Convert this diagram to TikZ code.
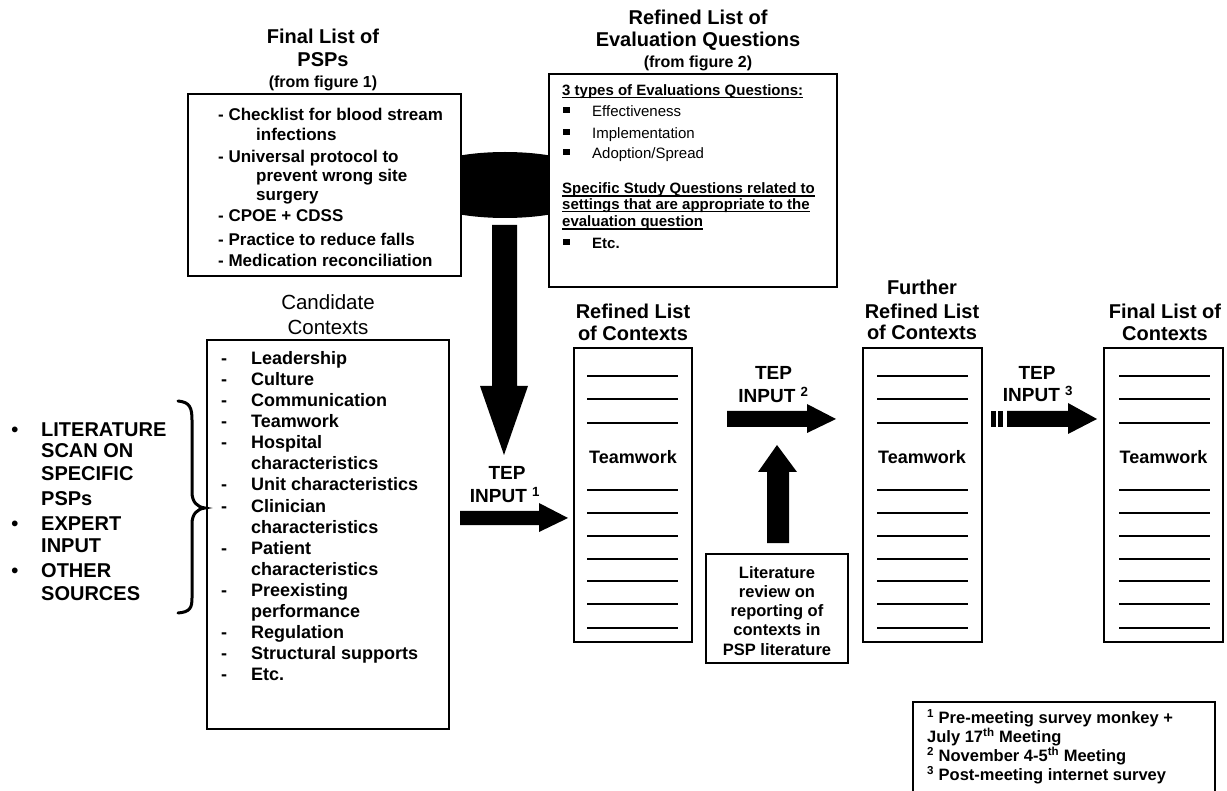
\documentclass[tikz,border=0pt]{standalone}
\usepackage{fontspec}
\setmainfont{Liberation Sans}
\newcommand\FS[2]{\fontsize{#1}{#2}\selectfont}
\begin{document}
\begin{tikzpicture}[x=1pt,y=-1pt,
  box/.style={draw, line width=2.5pt, fill=white, inner sep=0pt},
  tx/.style={inner sep=0pt, anchor=base west},
  tc/.style={inner sep=0pt, anchor=base},
  ttl/.style={tc, font=\FS{20}{22}\bfseries},
  sub/.style={tc, font=\FS{16}{18}\bfseries},
  rule/.style={line width=1.3pt},
  uline/.style={line width=1.6pt},
  blk/.style={fill=black}]
\useasboundingbox (0,0) rectangle (1227,791);

% merging shape behind the two top boxes
\fill[black] (505,185) ellipse [x radius=100pt, y radius=33pt];

% boxes
\node[box, minimum width=273pt, minimum height=182pt] (psp) at (324.5,185) {};
\node[box, minimum width=288pt, minimum height=213pt] (evq) at (693,180.5) {};
\node[box, line width=2.8pt, minimum width=242pt, minimum height=389pt] (cand) at (328,534.5) {};
\node[box, minimum width=118pt, minimum height=294pt] (ref) at (633,495) {};
\node[box, minimum width=119pt, minimum height=294pt] (fur) at (922.5,495) {};
\node[box, minimum width=119pt, minimum height=294pt] (fin) at (1163.5,495) {};
\node[box, line width=2pt, minimum width=142pt, minimum height=109pt] (lit) at (777,608.5) {};
\node[box, line width=2pt, minimum width=302pt, minimum height=93pt] (foot) at (1064,748.5) {};

% titles
\node[ttl] (t1a) at (323,44) {Final List of};
\node[ttl] (t1b) at (323,67) {PSPs};
\node[sub] (t1c) at (323,87.6) {(from figure 1)};
\node[ttl] (t2a) at (698,25) {Refined List of};
\node[ttl] (t2b) at (698,47) {Evaluation Questions};
\node[sub] (t2c) at (698,67.6) {(from figure 2)};
\node[tc, font=\FS{20.5}{22}] (t3a) at (328,310) {Candidate};
\node[tc, font=\FS{20.5}{22}] (t3b) at (328,335) {Contexts};
\node[ttl] (t4a) at (633,319) {Refined List};
\node[ttl] (t4b) at (633,341) {of Contexts};
\node[ttl] (t5a) at (922,295) {Further};
\node[ttl] (t5b) at (922,319) {Refined List};
\node[ttl] (t5c) at (922,340) {of Contexts};
\node[ttl] (t6a) at (1165,319) {Final List of};
\node[ttl] (t6b) at (1165,341) {Contexts};

% PSP list
\foreach \y/\x/\t [count=\i] in {115/218/{- Checklist for blood stream}, 135/256/infections,
  157/218/{- Universal protocol to}, 176/256/{prevent wrong site}, 195/256/surgery,
  216/218/{- CPOE + CDSS}, 240/218/{- Practice to reduce falls}, 261/218/{- Medication reconciliation}}
  \node[tx, font=\FS{17}{19}\bfseries] (psp\i) at (\x,{\y+6}) {\t};

% evaluation questions
\node[tx, font=\FS{15}{17}\bfseries] (e1) at (562,95.3) {3 types of Evaluations Questions:};
\draw[uline] ([yshift=-2.2pt]e1.base west) -- ([yshift=-2.2pt]e1.base east);
\node[tx, font=\FS{15}{17}] (e2) at (592,116.3) {Effectiveness};
\node[tx, font=\FS{15}{17}] (e3) at (592,138.3) {Implementation};
\node[tx, font=\FS{15}{17}] (e4) at (592,158.3) {Adoption/Spread};
\node[tx, font=\FS{15}{17}\bfseries] (e5) at (562,193.6) {Specific Study Questions related to};
\draw[uline] ([yshift=-2.2pt]e5.base west) -- ([yshift=-2.2pt]e5.base east);
\node[tx, font=\FS{15}{17}\bfseries] (e6) at (562,209.4) {settings that are appropriate to the};
\draw[uline] ([yshift=-2.2pt]e6.base west) -- ([yshift=-2.2pt]e6.base east);
\node[tx, font=\FS{15}{17}\bfseries] (e7) at (562,227) {evaluation question};
\draw[uline] ([yshift=-2.2pt]e7.base west) -- ([yshift=-2.2pt]e7.base east);
\node[tx, font=\FS{15}{17}\bfseries] (e8) at (592,248.3) {Etc.};
\foreach \y in {111,133,153,243}
  \fill (563,{\y-4.3}) rectangle (570,{\y+1.7});

% candidate contexts
\foreach \t/\d [count=\i] in {Leadership/1, Culture/1, Communication/1, Teamwork/1, Hospital/1,
  characteristics/0, Unit characteristics/1, Clinician/1, characteristics/0, Patient/1,
  characteristics/0, Preexisting/1, performance/0, Regulation/1, Structural supports/1, Etc./1}
{
  \node[tx, font=\FS{18}{20}\bfseries] (cand\i) at (251,{364.3+(\i-1)*21.1}) {\t};
  \ifnum\d=1
    \node[tx, font=\FS{18}{20}\bfseries] (cdash\i) at (221,{364.3+(\i-1)*21.1}) {-};
  \fi
}

% sources list
\foreach \t/\y [count=\i] in {LITERATURE/430, SCAN ON/451, SPECIFIC/474, PSPs/498,
  EXPERT/523, INPUT/545, OTHER/570, SOURCES/593}
  \node[tx, font=\FS{20}{22}\bfseries] (src\i) at (41,{\y+7}) {\t};
\foreach \y [count=\i] in {430,523,570}
  \node[tc, font=\FS{20}{22}\bfseries] (bul\i) at (15,{\y+7}) {•};

% brace
\draw[line width=3pt, line cap=round]
  (178,401) .. controls (190,402) and (192,408) .. (192,420) -- (192,492)
  .. controls (192,502) and (197,507) .. (205,508)
  .. controls (197,509) and (192,514) .. (192,524) -- (192,598)
  .. controls (192,608) and (190,612) .. (178,613);

% lines in context lists
\foreach \xa/\xb in {587/678, 877/968, 1119/1210}
  \foreach \y in {376,399,423,490,513,536,559,581,604,628}
    \draw[rule] (\xa,\y) -- (\xb,\y);
\node[tc, font=\FS{18}{20}\bfseries] (tw1) at (633,463.3) {Teamwork};
\node[tc, font=\FS{18}{20}\bfseries] (tw2) at (922,463.3) {Teamwork};
\node[tc, font=\FS{18}{20}\bfseries] (tw3) at (1163.5,463.3) {Teamwork};

% TEP labels
\node[tc, font=\FS{19}{21}\bfseries] (tep1a) at (507,479.7) {TEP};
\node[tc, font=\FS{19}{21}\bfseries] (tep1b) at (505,502.7) {INPUT \textsuperscript{1}};
\node[tc, font=\FS{19}{21}\bfseries] (tep2a) at (773.5,379.7) {TEP};
\node[tc, font=\FS{19}{21}\bfseries] (tep2b) at (773.5,402.7) {INPUT \textsuperscript{2}};
\node[tc, font=\FS{19}{21}\bfseries] (tep3a) at (1037,379.7) {TEP};
\node[tc, font=\FS{19}{21}\bfseries] (tep3b) at (1038,401.7) {INPUT \textsuperscript{3}};

% block arrows
\fill[blk] (492,225) -- (517,225) -- (517,386) -- (528,386) -- (504,455) -- (480,386) -- (492,386) -- cycle;
\fill[blk] (460,511) -- (539,511) -- (539,503) -- (568,518) -- (539,532) -- (539,525) -- (460,525) -- cycle;
\fill[blk] (727,411) -- (807,411) -- (807,404) -- (836,419) -- (807,433) -- (807,427) -- (727,427) -- cycle;
\fill[blk] (767,543) -- (767,472) -- (758,472) -- (777,445) -- (797,472) -- (789,472) -- (789,543) -- cycle;
\fill[blk] (991,411) rectangle (996,427);
\fill[blk] (998,411) rectangle (1003,427);
\fill[blk] (1007,411) -- (1068,411) -- (1068,403) -- (1097,419) -- (1068,434) -- (1068,427) -- (1007,427) -- cycle;

% literature review box text
\foreach \t/\y [count=\i] in {Literature/573, review on/592, reporting of/611, contexts in/630, PSP literature/650}
  \node[tc, font=\FS{16.5}{18}\bfseries] (lit\i) at (777,{\y+5.8}) {\t};

% footnotes
\node[tx, font=\FS{16.5}{18}\bfseries] (f1) at (927,723.8) {\textsuperscript{1} Pre-meeting survey monkey +};
\node[tx, font=\FS{16.5}{18}\bfseries] (f2) at (927,742.8) {July 17\textsuperscript{th} Meeting};
\node[tx, font=\FS{16.5}{18}\bfseries] (f3) at (927,761.8) {\textsuperscript{2} November 4-5\textsuperscript{th} Meeting};
\node[tx, font=\FS{16.5}{18}\bfseries] (f4) at (927,780.8) {\textsuperscript{3} Post-meeting internet survey};
\end{tikzpicture}
\end{document}
